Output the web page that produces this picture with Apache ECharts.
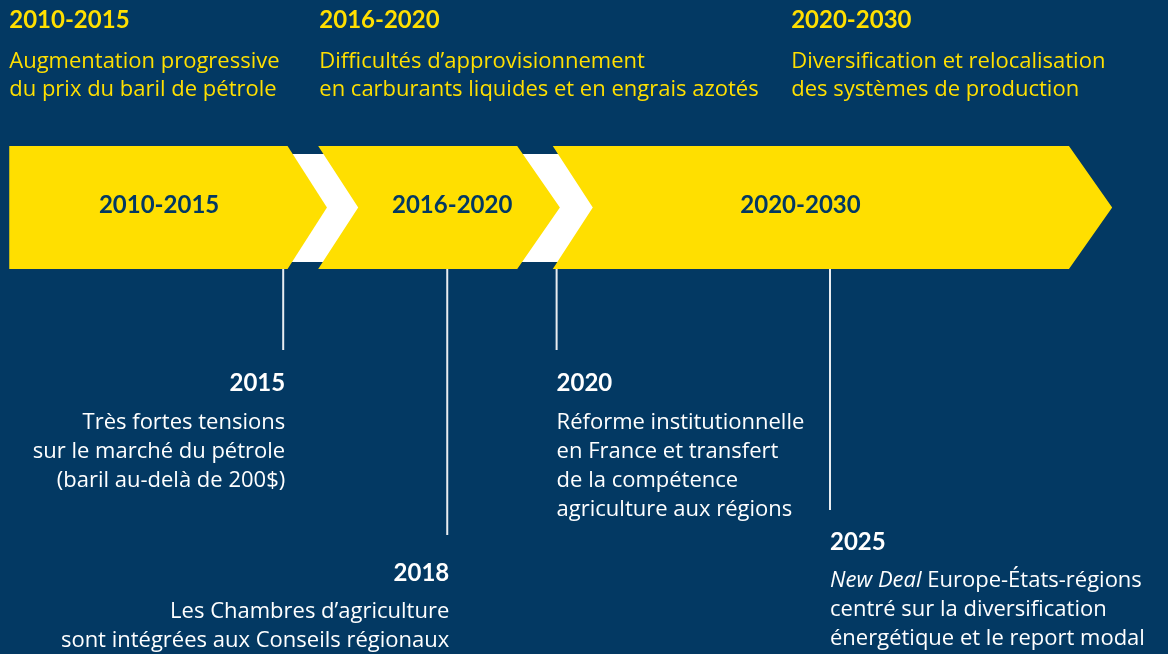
<!DOCTYPE html>
<html><head><meta charset="utf-8">
<script src="https://cdn.jsdelivr.net/npm/echarts/dist/echarts.min.js"></script>
<style>html,body{margin:0;padding:0;background:#033963}#c{width:1168px;height:654px}</style>
</head><body><div id="c"></div>
<script>
// ---------- data ----------
const periodLabels = ['2010-2015', '2016-2020', '2020-2030'];
const periodDescriptions = [
  ['Augmentation progressive', 'du prix du baril de pétrole'],
  ['Difficultés d’approvisionnement', 'en carburants liquides et en engrais azotés'],
  ['Diversification et relocalisation', 'des systèmes de production']
];
const periodHeadingX = [2009.99, 2015.66, 2024.29];   // x (years) where heading text starts
const arrowBack = [2009.99, 2015.64, 2019.93];        // back edge of each arrow (years)
const arrowShoulder = [2015.08, 2019.28, 2029.37];    // where the point starts (years)
const arrowTip = [2015.80, 2020.06, 2030.16];         // tip of each arrow (years)
const arrowNotched = [0, 1, 1];
const arrowLabelX = [2012.73, 2018.09, 2024.46];

const eventYears = [2015, 2018, 2020, 2025];
const eventLabels = ['2015', '2018', '2020', '2025'];
const eventTexts = [
  ['Très fortes tensions', 'sur le marché du pétrole', '(baril au-delà de 200$)'],
  ['Les Chambres d’agriculture', 'sont intégrées aux Conseils régionaux'],
  ['Réforme institutionnelle', 'en France et transfert', 'de la compétence', 'agriculture aux régions'],
  ['{i|New Deal} Europe-États-régions', 'centré sur la diversification', 'énergétique et le report modal']
];
const eventAlign = ['right', 'right', 'left', 'left'];
const eventLineEnd = [350, 535, 350, 510];   // level (vertical axis) where the stem ends
const eventLabelLevel = [383.5, 573, 383.5, 542];

// ---------- style / layout ----------
const BG = '#033963', YEL = '#FFDF00', WHITE = '#FFFFFF', LINE = '#E9EDF1';
const FONT = 'Lato', BODY_FONT = '"Open Sans"';
const L = { bandTop: 146, bandBottom: 269, bandMid: 207.5, whiteTop: 154, whiteBottom: 262,
            headYear: 20, headLine1: 61.5, headLH: 28, labelMid: 205, notch: 40,
            yearFS: 24, bodyFS: 22, headFS: 22, bodyLH: 29, firstGap: 39 };

const chart = echarts.init(document.getElementById('c'), null, { renderer: 'canvas' });

const gapData = [];
for (let i = 1; i < arrowBack.length; i++) gapData.push([arrowShoulder[i - 1], arrowBack[i]]);

const option = {
  backgroundColor: BG,
  animation: false,
  grid: { left: 0, right: 0, top: 0, bottom: 0 },
  xAxis: { type: 'value', min: 2009.821, max: 2031.181, show: false },
  yAxis: { type: 'value', min: 0, max: 654, inverse: true, show: false },
  series: [
    { // white chevrons between arrows
      type: 'custom', silent: true, z: 1, clip: false,
      data: gapData,
      renderItem: (p, api) => {
        const a = api.coord([api.value(0), L.whiteTop]);
        const b = api.coord([api.value(1), L.whiteTop]);
        const bot = api.coord([api.value(0), L.whiteBottom]);
        const mid = api.coord([api.value(1), L.bandMid]);
        const shift = 8;
        return { type: 'polygon', shape: { points: [
          [a[0], a[1]], [b[0] + shift, a[1]], [b[0] + L.notch + shift, mid[1]], [b[0] + shift, bot[1]], [a[0], bot[1]]
        ] }, style: { fill: WHITE } };
      }
    },
    { // yellow arrows
      type: 'custom', silent: true, z: 2, clip: false,
      data: arrowBack.map((b, i) => [b, arrowShoulder[i], arrowTip[i], arrowNotched[i]]),
      renderItem: (p, api) => {
        const back = api.coord([api.value(0), L.bandTop]);
        const sh = api.coord([api.value(1), L.bandBottom]);
        const tip = api.coord([api.value(2), L.bandMid]);
        const t = back[1], b = sh[1], m = tip[1];
        const pts = [[back[0], t], [sh[0], t], [tip[0], m], [sh[0], b], [back[0], b]];
        if (api.value(3)) pts.push([back[0] + L.notch, m]);
        return { type: 'polygon', shape: { points: pts }, style: { fill: YEL } };
      }
    },
    { // labels inside arrows
      type: 'custom', silent: true, z: 3, clip: false,
      data: arrowLabelX.map(x => [x, L.labelMid]),
      renderItem: (p, api) => {
        const c = api.coord([api.value(0), api.value(1)]);
        return { type: 'text', x: c[0], y: c[1], style: {
          text: periodLabels[p.dataIndex], fill: BG, fontFamily: FONT, fontWeight: 'bold', fontSize: L.yearFS,
          align: 'center', verticalAlign: 'middle' } };
      }
    },
    { // headings at the top
      type: 'custom', silent: true, z: 3, clip: false,
      data: periodHeadingX.map(x => [x, L.headYear]),
      renderItem: (p, api) => {
        const c = api.coord([api.value(0), api.value(1)]);
        const c2 = api.coord([api.value(0), L.headLine1 - L.headLH / 2]);
        return { type: 'group', children: [
          { type: 'text', x: c[0], y: c[1], style: { text: periodLabels[p.dataIndex], fill: YEL, fontFamily: FONT,
            fontWeight: 'bold', fontSize: L.yearFS, align: 'left', verticalAlign: 'middle' } },
          { type: 'text', x: c2[0], y: c2[1], style: { text: periodDescriptions[p.dataIndex].join('\n'), fill: YEL,
            fontFamily: BODY_FONT, fontSize: L.headFS, lineHeight: L.headLH, align: 'left', verticalAlign: 'top' } }
        ] };
      }
    },
    { // event stems
      type: 'custom', silent: true, z: 1, clip: false,
      data: eventYears.map((y, i) => [y, L.bandBottom, eventLineEnd[i]]),
      renderItem: (p, api) => {
        const a = api.coord([api.value(0), api.value(1)]);
        const b = api.coord([api.value(0), api.value(2)]);
        return { type: 'line', shape: { x1: a[0], y1: a[1], x2: b[0], y2: b[1] },
          style: { stroke: LINE, lineWidth: 2 } };
      }
    },
    { // event texts
      type: 'custom', silent: true, z: 3, clip: false,
      data: eventYears.map((y, i) => [y, eventLabelLevel[i]]),
      renderItem: (p, api) => {
        const i = p.dataIndex;
        const c = api.coord([api.value(0), api.value(1)]);
        const dx = eventAlign[i] === 'right' ? 2 : 0;
        const c2 = api.coord([api.value(0), api.value(1) + L.firstGap - L.bodyLH / 2]);
        return { type: 'group', children: [
          { type: 'text', x: c[0] + dx, y: c[1], style: { text: eventLabels[i], fill: WHITE, fontFamily: FONT,
            fontWeight: 'bold', fontSize: L.yearFS, align: eventAlign[i], verticalAlign: 'middle' } },
          { type: 'text', x: c2[0] + dx, y: c2[1], style: { text: eventTexts[i].join('\n'), fill: WHITE,
            fontFamily: BODY_FONT, fontSize: L.bodyFS, lineHeight: L.bodyLH, align: eventAlign[i], verticalAlign: 'top',
            rich: { i: { fontFamily: BODY_FONT, fontSize: L.bodyFS, fontStyle: 'italic', fill: WHITE, lineHeight: L.bodyLH } } } }
        ] };
      }
    }
  ]
};
chart.setOption(option);
</script></body></html>
